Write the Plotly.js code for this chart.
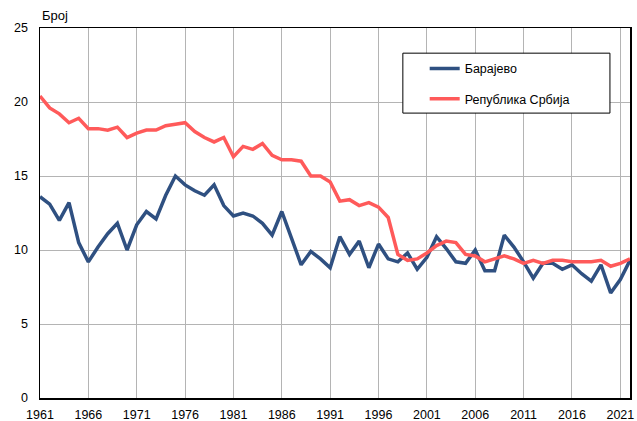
<!DOCTYPE html>
<html>
<head>
<meta charset="utf-8">
<script src="https://cdn.plot.ly/plotly-3.0.1.min.js"></script>
<style>html,body{margin:0;padding:0;background:#fff;}#chart{width:637px;height:421px;}</style>
</head>
<body>
<div id="chart"></div>
<script>
const years = [];
for (let y = 1961; y <= 2022; y++) years.push(y);

const barajevo = [
  13.6, 13.1, 12.0, 13.2, 10.5, 9.2, 10.2, 11.1, 11.8, 10.0,
  11.7, 12.6, 12.1, 13.7, 15.0, 14.4, 14.0, 13.7, 14.4, 13.0,
  12.3, 12.5, 12.3, 11.8, 11.0, 12.6, 10.8, 9.0, 9.9, 9.4,
  8.8, 10.9, 9.7, 10.6, 8.8, 10.4, 9.4, 9.2, 9.8, 8.7,
  9.5, 10.9, 10.1, 9.2, 9.1, 10.0, 8.6, 8.6, 11.0, 10.2,
  9.2, 8.1, 9.1, 9.1, 8.7, 9.0, 8.4, 7.9, 9.0, 7.1,
  8.0, 9.3
];

const srbija = [
  20.4, 19.6, 19.2, 18.6, 18.9, 18.2, 18.2, 18.1, 18.3, 17.6,
  17.9, 18.1, 18.1, 18.4, 18.5, 18.6, 18.0, 17.6, 17.3, 17.6,
  16.3, 17.0, 16.8, 17.2, 16.4, 16.1, 16.1, 16.0, 15.0, 15.0,
  14.6, 13.3, 13.4, 13.0, 13.2, 12.9, 12.2, 9.7, 9.3, 9.4,
  9.8, 10.3, 10.6, 10.5, 9.7, 9.6, 9.2, 9.4, 9.6, 9.4,
  9.1, 9.3, 9.1, 9.3, 9.3, 9.2, 9.2, 9.2, 9.3, 8.9,
  9.1, 9.4
];

const seriesNames = ['Барајево', 'Република Србија'];
const xTicks = [1961, 1966, 1971, 1976, 1981, 1986, 1991, 1996, 2001, 2006, 2011, 2016, 2021];
const yTicks = [0, 5, 10, 15, 20, 25];
const yLabel = 'Број';

const font = {family: 'Liberation Sans, Arial, sans-serif', size: 12, color: '#000'};

const traces = [
  {x: years, y: barajevo, name: seriesNames[0], type: 'scatter', mode: 'lines',
   line: {color: '#2f5081', width: 3.5}, legendgroup: 'a'},
  {x: years, y: srbija, name: seriesNames[1], type: 'scatter', mode: 'lines',
   line: {color: '#ff5a5a', width: 3.5}, legendgroup: 'b'}
];

const layout = {
  width: 637, height: 421,
  margin: {l: 40, r: 7, t: 28, b: 23},
  paper_bgcolor: '#fff', plot_bgcolor: '#fff',
  font: font,
  showlegend: true,
  legend: {
    x: 0.652, y: 0.93, xanchor: 'left', yanchor: 'top',
    bgcolor: 'rgba(0,0,0,0)', borderwidth: 0,
    traceorder: 'grouped', tracegroupgap: 11,
    itemwidth: 30,
    font: {family: font.family, size: 12.5, color: '#000'}
  },
  xaxis: {
    range: [1961, 2022], tickmode: 'array', tickvals: xTicks,
    ticktext: xTicks.map(String),
    showgrid: true, gridcolor: '#b4b4b4', gridwidth: 1,
    showline: true, linecolor: '#000', linewidth: 1.5, mirror: true,
    zeroline: false, ticks: '', tickfont: {size: 12.5}, ticklabelstandoff: 4
  },
  yaxis: {
    range: [0, 25], tickmode: 'array', tickvals: yTicks,
    showgrid: true, gridcolor: '#b4b4b4', gridwidth: 1,
    showline: true, linecolor: '#000', linewidth: 1.5, mirror: true,
    zeroline: false, ticks: '', tickfont: {size: 12.5}, ticklabelstandoff: 8
  },
  shapes: [
    {type: 'rect', xref: 'paper', yref: 'paper', x0: 0.615, x1: 0.966, y0: 0.77, y1: 0.932,
     line: {color: '#000', width: 1}, fillcolor: '#fff', layer: 'above'}
  ],
  annotations: [
    {text: yLabel, xref: 'paper', yref: 'paper', x: 0, y: 1, xanchor: 'left', yanchor: 'bottom',
     yshift: 3, showarrow: false, font: {size: 13, color: '#000'}}
  ]
};

Plotly.newPlot('chart', traces, layout, {displayModeBar: false, staticPlot: true});
</script>
</body>
</html>
